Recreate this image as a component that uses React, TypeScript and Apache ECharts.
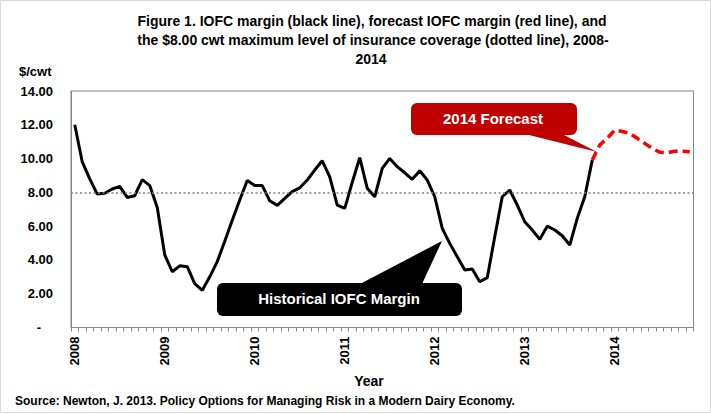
import React, { useEffect, useRef } from 'react';
import * as echarts from 'echarts';

const YEARS = ['2008', '2009', '2010', '2011', '2012', '2013', '2014'];
const MONTHS_SHOWN_LAST_YEAR = 11;

// IOFC margin, $/cwt, monthly from Jan 2008 to Oct 2013
const HISTORICAL = [
  12.0, 9.8, 8.8, 7.9, 7.95, 8.2, 8.35, 7.7, 7.8, 8.75, 8.4, 7.1,
  4.3, 3.3, 3.65, 3.6, 2.6, 2.2, 3.0, 3.9, 5.1, 6.35, 7.55, 8.7,
  8.4, 8.4, 7.5, 7.23, 7.64, 8.04, 8.27, 8.73, 9.32, 9.87, 8.92, 7.25,
  7.05, 8.6, 10.05, 8.24, 7.74, 9.42, 10.01, 9.52, 9.16, 8.77, 9.28, 8.73,
  7.74, 5.87, 4.98, 4.19, 3.4, 3.46, 2.71, 2.95, 5.37, 7.74, 8.14, 7.25,
  6.26, 5.77, 5.22, 6.0, 5.77, 5.43, 4.88, 6.46, 7.74, 9.91,
];
// Forecast IOFC margin, $/cwt, monthly from Oct 2013 to Nov 2014
const FORECAST_START_INDEX = 69;
const FORECAST = [9.91, 10.8, 11.2, 11.69, 11.6, 11.5, 11.2, 10.9, 10.6, 10.38, 10.34, 10.44, 10.44, 10.4];
const COVERAGE_LEVEL = 8.0;

const Y_MIN = 0;
const Y_MAX = 14;
const Y_INTERVAL = 2;

const TITLE_LINES = [
  'Figure 1. IOFC margin (black line), forecast IOFC margin (red line), and',
  'the $8.00 cwt maximum level of insurance coverage (dotted line), 2008-',
  '2014',
];
const Y_UNIT = '$/cwt';
const X_NAME = 'Year';
const SOURCE = 'Source: Newton, J. 2013. Policy Options for Managing Risk in a Modern Dairy Economy.';
const FORECAST_CALLOUT = '2014 Forecast';
const HISTORY_CALLOUT = 'Historical IOFC Margin';

const FONT = '"Liberation Sans", Arial, sans-serif';

function buildCategories(): string[] {
  const cats: string[] = [];
  YEARS.forEach((y, yi) => {
    const n = yi === YEARS.length - 1 ? MONTHS_SHOWN_LAST_YEAR : 12;
    for (let m = 1; m <= n; m++) cats.push(`${y}-${m < 10 ? '0' + m : m}`);
  });
  return cats;
}

export default function App() {
  const ref = useRef<HTMLDivElement>(null);

  useEffect(() => {
    if (!ref.current) return;
    const chart = echarts.init(ref.current, undefined, { renderer: 'svg' });
    const categories = buildCategories();
    const histData = categories.map((_, i) => (i < HISTORICAL.length ? HISTORICAL[i] : null));
    const fcData = categories.map((_, i) =>
      i >= FORECAST_START_INDEX && i - FORECAST_START_INDEX < FORECAST.length ? FORECAST[i - FORECAST_START_INDEX] : null
    );

    const txt = (text: string, x: number, y: number, size: number, color = '#000', align = 'center') => ({
      type: 'text',
      x,
      y,
      z: 100,
      style: {
        text,
        fill: color,
        font: `bold ${size}px ${FONT}`,
        textAlign: align,
        textVerticalAlign: 'middle',
        align,
        verticalAlign: 'middle',
      },
    });

    chart.setOption({
      animation: false,
      backgroundColor: '#ffffff',
      grid: { left: 71, right: 17.5, top: 91, bottom: 86.5, show: true, borderColor: '#868686', borderWidth: 1 },
      xAxis: {
        type: 'category',
        data: categories,
        boundaryGap: true,
        axisLine: { show: true, lineStyle: { color: '#868686', width: 1 } },
        axisTick: { show: true, interval: 0, length: 4, lineStyle: { color: '#868686' } },
        axisLabel: {
          interval: (idx: number) => idx % 12 === 0,
          formatter: (v: string) => v.slice(0, 4),
          rotate: 90,
          margin: 9,
          color: '#000',
          fontWeight: 'bold',
          fontSize: 13,
          fontFamily: FONT,
        },
        splitLine: { show: false },
      },
      yAxis: {
        type: 'value',
        min: Y_MIN,
        max: Y_MAX,
        interval: Y_INTERVAL,
        axisLine: { show: true, lineStyle: { color: '#868686', width: 1 } },
        axisTick: { show: false },
        splitLine: { show: false },
        axisLabel: {
          margin: 18,
          color: '#000',
          fontWeight: 'bold',
          fontSize: 13,
          fontFamily: FONT,
          formatter: (v: number) => (v === 0 ? '{d|-}' : v.toFixed(2)),
          rich: { d: { padding: [0, 12, 0, 0], fontWeight: 'bold', fontSize: 13, fontFamily: FONT, color: '#000' } },
        },
      },
      series: [
        {
          name: 'IOFC margin',
          type: 'line',
          data: histData,
          symbol: 'none',
          connectNulls: false,
          z: 3,
          lineStyle: { color: '#000000', width: 3 },
          markLine: {
            silent: true,
            symbol: ['none', 'none'],
            label: { show: false },
            lineStyle: { color: '#7f7f7f', width: 1.5, type: [2, 2.5] },
            data: [{ yAxis: COVERAGE_LEVEL }],
          },
        },
        {
          name: 'Forecast',
          type: 'line',
          data: fcData,
          symbol: 'none',
          connectNulls: false,
          z: 4,
          lineStyle: { color: '#ff0000', width: 3.5, type: [9, 5] },
        },
      ],
      graphic: [
        { type: 'rect', shape: { x: 0.5, y: 0.5, width: 710, height: 412 }, style: { fill: 'none', stroke: '#d9d9d9', lineWidth: 1 }, silent: true },
        txt(TITLE_LINES[0], 372, 21, 14),
        txt(TITLE_LINES[1], 373, 40, 14),
        txt(TITLE_LINES[2], 371, 59, 14),
        txt(Y_UNIT, 19, 71, 13, '#000', 'left'),
        txt(X_NAME, 369, 381, 14),
        txt(SOURCE, 15, 401, 12, '#000', 'left'),
        { type: 'rect', z: 90, shape: { x: 411, y: 103, width: 166, height: 32, r: 6 }, style: { fill: '#c00000' } },
        { type: 'polygon', z: 90, shape: { points: [[525, 134], [562, 134], [597, 152]] }, style: { fill: '#c00000' } },
        txt(FORECAST_CALLOUT, 493, 118, 15, '#ffffff'),
        { type: 'rect', z: 90, shape: { x: 217, y: 283, width: 245, height: 33, r: 6 }, style: { fill: '#000000' } },
        { type: 'polygon', z: 90, shape: { points: [[360, 284], [422, 284], [442, 241]] }, style: { fill: '#000000' } },
        txt(HISTORY_CALLOUT, 339, 298, 15, '#ffffff'),
      ],
    });
    return () => chart.dispose();
  }, []);

  return <div ref={ref} style={{ position: 'fixed', left: 0, top: 0, width: 711, height: 414 }} />;
}
